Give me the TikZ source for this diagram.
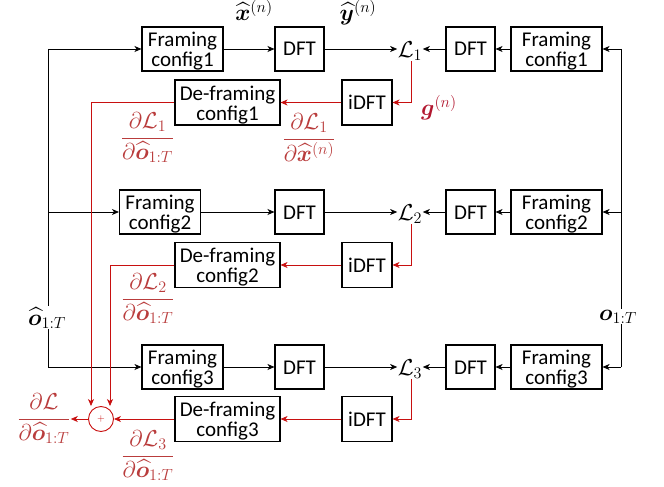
\RequirePackage{fix-cm}
\documentclass[tikz,border=0pt]{standalone}
\usepackage{amsmath,bm}
\usepackage[no-math]{fontspec}
\newfontfamily\carlito{Carlito}
\usetikzlibrary{arrows.meta,calc}
\definecolor{lred}{RGB}{200,16,16}
\definecolor{fred}{RGB}{185,60,60}
\definecolor{gred}{RGB}{178,24,48}
\newcommand\boxfnt{\carlito\fontsize{21}{20}\selectfont}
\newcommand\mathfnt{\fontsize{23}{27}\selectfont}
\newcommand\twol[2]{\rule{0pt}{19pt}#1\\#2}
\newcommand\onel[1]{\rule[-3pt]{0pt}{20pt}#1}
\begin{document}
\begin{tikzpicture}[x=1pt,y=-1pt,
  blk/.style={draw,line width=1.1pt,inner sep=0pt,align=center,font=\boxfnt,minimum height=44pt},
  fl/.style={blk,minimum width=81pt},
  fr/.style={blk,minimum width=91pt},
  dft/.style={blk,minimum width=49pt},
  def/.style={blk,minimum width=105pt,minimum height=45pt},
  idft/.style={blk,minimum width=50pt,minimum height=45pt},
  lab/.style={font=\mathfnt,inner sep=0.5pt},
  frac/.style={font=\mathfnt,text=fred,inner sep=0pt,anchor=base},
  line/.style={line width=0.8pt},
  arr/.style={line,-{Stealth[length=7pt,width=6pt,inset=2pt]}},
  rarr/.style={arr,draw=lred,color=lred}
]
\useasboundingbox (0,0) rectangle (664,487);
% row 1
\node[fl] (FL1) at (182.5,49) {\twol{Framing}{config1}};
\node[dft] (DL1) at (299.5,49) {\onel{DFT}};
\node[lab,anchor=base] (L1) at (410,57.3) {$\mathcal{L}_1$};
\node[dft] (DR1) at (470.5,49) {\onel{DFT}};
\node[fr] (FR1) at (556.5,49) {\twol{Framing}{config1}};
\node[def] (DeF1) at (227.5,102.5) {\twol{De-framing}{config1}};
\node[idft] (iD1) at (367,102.5) {\onel{iDFT}};
% row 2
\node[fl] (FL2) at (160,212) {\twol{Framing}{config2}};
\node[dft] (DL2) at (299.5,212) {\onel{DFT}};
\node[lab,anchor=base] (L2) at (410,220.3) {$\mathcal{L}_2$};
\node[dft] (DR2) at (470.5,212) {\onel{DFT}};
\node[fr] (FR2) at (556.5,212) {\twol{Framing}{config2}};
\node[def] (DeF2) at (227.5,265) {\twol{De-framing}{config2}};
\node[idft] (iD2) at (367,265) {\onel{iDFT}};
% row 3
\node[fl] (FL3) at (182.5,367) {\twol{Framing}{config3}};
\node[dft] (DL3) at (299.5,367) {\onel{DFT}};
\node[lab,anchor=base] (L3) at (410,375.3) {$\mathcal{L}_3$};
\node[dft] (DR3) at (470.5,367) {\onel{DFT}};
\node[fr] (FR3) at (556.5,367) {\twol{Framing}{config3}};
\node[def] (DeF3) at (227.5,419) {\twol{De-framing}{config3}};
\node[idft] (iD3) at (367,419) {\onel{iDFT}};
% sum
\node[draw=lred,circle,line width=0.9pt,minimum size=25pt,inner sep=0pt,text=lred,font=\fontsize{10}{10}\selectfont] (sum) at (101,419) {$+$};
% buses
\coordinate (lt) at (48,49);
\coordinate (lb) at (48,367);
\coordinate (rt) at (621,49);
\coordinate (rb) at (621,367);
\draw[line] (lt) -- (lb);
\draw[line] (rt) -- (rb);
\draw[arr] (lt) -- (FL1.west);
\draw[arr] (lt |- FL2.west) -- (FL2.west);
\draw[arr] (lb) -- (FL3.west);
\draw[arr] (rt) -- (FR1.east);
\draw[arr] (rt |- FR2.east) -- (FR2.east);
\draw[arr] (rb) -- (FR3.east);
\node[lab,anchor=base west,fill=white,inner sep=1pt] (ohat) at (27,325) {$\widehat{\bm{o}}_{1:T}$};
\node[lab,anchor=base west,fill=white,inner sep=1pt] (o) at (598,320) {$\bm{o}_{1:T}$};
% forward chains
\foreach \i in {1,2,3}{
  \draw[arr] (FL\i) -- (DL\i);
  \draw[arr] (DL\i.east) -- (DL\i.east -| L\i.west);
  \draw[arr] (FR\i) -- (DR\i);
  \draw[arr] (DR\i.west) -- (DR\i.west -| L\i.east);
  \draw[rarr] ([xshift=1.5pt]L\i.south) |- (iD\i.east);
  \draw[rarr] (iD\i) -- (DeF\i);
}
\draw[rarr] (DeF1.west) -| ([xshift=-10pt]sum.north);
\draw[rarr] (DeF2.west) -| ([xshift=9pt]sum.north);
\draw[rarr] (DeF3) -- (sum);
% labels
\node[lab,anchor=base] (xh) at (254,21) {$\widehat{\bm{x}}^{(n)}$};
\node[lab,anchor=base] (yh) at (358,21) {$\widehat{\bm{y}}^{(n)}$};
\node[lab,text=gred] (g) at (439,108) {$\bm{g}^{(n)}$};
\node[frac] (f1a) at (147.5,143.75) {$\dfrac{\partial\mathcal{L}_1}{\partial\widehat{\bm{o}}_{1:T}}$};
\node[frac] (f1b) at (309,145) {$\dfrac{\partial\mathcal{L}_1}{\partial\widehat{\bm{x}}^{(n)}}$};
\node[frac] (f2) at (148,304.75) {$\dfrac{\partial\mathcal{L}_2}{\partial\widehat{\bm{o}}_{1:T}}$};
\node[frac] (f3) at (148,461.75) {$\dfrac{\partial\mathcal{L}_3}{\partial\widehat{\bm{o}}_{1:T}}$};
\node[frac] (dL) at (44,424.75) {$\dfrac{\partial\mathcal{L}}{\partial\widehat{\bm{o}}_{1:T}}$};
\draw[rarr] (sum) -- (sum.west -| dL.east);
\end{tikzpicture}
\end{document}
